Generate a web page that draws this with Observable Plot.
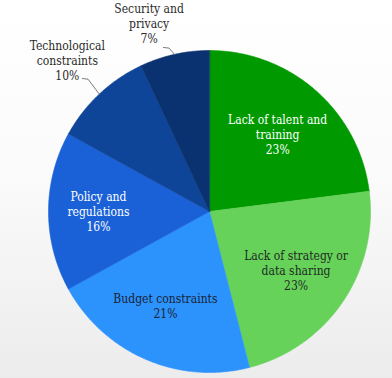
<!DOCTYPE html>
<html>
<head>
<meta charset="utf-8">
<script src="https://cdn.jsdelivr.net/npm/d3@7"></script>
<script src="https://cdn.jsdelivr.net/npm/@observablehq/plot@0.6"></script>
<style>
  html, body { margin: 0; padding: 0; }
  body { width: 392px; height: 378px; overflow: hidden;
         background: linear-gradient(to bottom, #ffffff 0%, #fbfbfb 45%, #ececec 100%); }
</style>
</head>
<body>
<div id="chart"></div>
<script>
// ---- data ----
const categories = ["Lack of talent and training", "Lack of strategy or data sharing", "Budget constraints",
                    "Policy and regulations", "Technological constraints", "Security and privacy"];
const values = [23, 23, 21, 16, 10, 7];
const labelLines = [["Lack of talent and", "training"], ["Lack of strategy or", "data sharing"], ["Budget constraints"],
                    ["Policy and", "regulations"], ["Technological", "constraints"], ["Security and", "privacy"]];
const sliceColors = ["#009a00", "#66d25a", "#2c93fd", "#1a61d7", "#0f4599", "#0a3170"];
const textColors = ["#ffffff", "#1e2a22", "#1a2233", "#ffffff", "#2a2a2a", "#2a2a2a"];

// ---- layout (label placement, not data) ----
const labelRadius = [0.64, 0.65, 0.645, 0.69, 1.29, 1.23];
const labelAngleShift = [0, 0, 0.03, 0, 0, -0.09];
const outside = [false, false, false, false, true, true];
const leaderOffset = [null, null, null, null, [-0.105, 0.097], [-0.068, 0.043]];

const arcs = d3.pie().sort(null).value(d => d)(values);

const polys = arcs.map((a, i) => {
  const n = Math.max(2, Math.ceil((a.endAngle - a.startAngle) / 0.01));
  const pts = [{x: 0, y: 0, i}];
  for (let k = 0; k <= n; k++) {
    const t = a.startAngle + (a.endAngle - a.startAngle) * k / n;
    pts.push({x: Math.sin(t), y: Math.cos(t), i});
  }
  return pts;
});

const labels = arcs.map((a, i) => {
  const m = (a.startAngle + a.endAngle) / 2 + labelAngleShift[i];
  return {
    x: labelRadius[i] * Math.sin(m),
    y: labelRadius[i] * Math.cos(m),
    text: labelLines[i].join("\n") + "\n" + values[i] + "%",
    color: textColors[i]
  };
});

// leader lines: short horizontal tail beside the label, then straight to the pie edge
const leaderPts = [];
arcs.forEach((a, i) => {
  if (!outside[i]) return;
  const m = (a.startAngle + a.endAngle) / 2;
  const ex = Math.sin(m), ey = Math.cos(m);
  const [ox, oy] = leaderOffset[i];
  leaderPts.push({x: ex + ox, y: ey + oy, i});
  leaderPts.push({x: ex + ox + 0.035, y: ey + oy - 0.004, i});
  leaderPts.push({x: ex, y: ey, i});
});

const marks = [];
polys.forEach((pts, i) => {
  marks.push(Plot.line(pts, {x: "x", y: "y", curve: "linear-closed",
    fill: sliceColors[i], stroke: sliceColors[i], strokeWidth: 0.6}));
});
marks.push(Plot.line(leaderPts, {x: "x", y: "y", z: "i",
  stroke: "#6b6b6b", strokeWidth: 0.9, curve: "linear"}));
marks.push(Plot.text(labels, {x: "x", y: "y", text: "text", fill: "color",
  fontSize: 12, lineHeight: 1.25, fontFamily: "DejaVu Serif Condensed, DejaVu Serif"}));

const chart = Plot.plot({
  width: 392,
  height: 378,
  marginLeft: 48,
  marginRight: 22,
  marginTop: 50,
  marginBottom: 6,
  x: {domain: [-1, 1], axis: null},
  y: {domain: [-1, 1], axis: null},
  color: {type: "identity"},
  style: {background: "transparent", overflow: "visible"},
  marks
});
document.getElementById("chart").appendChild(chart);
</script>
</body>
</html>
